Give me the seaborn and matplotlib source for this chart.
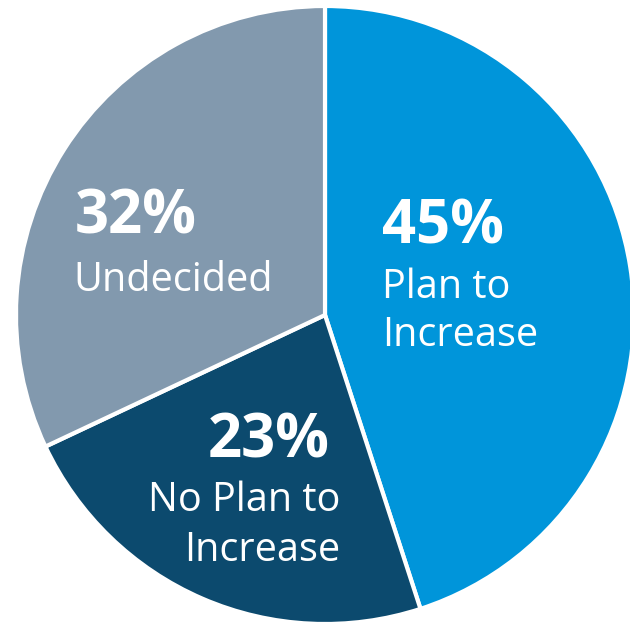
import matplotlib
matplotlib.use("Agg")
import matplotlib.pyplot as plt
import seaborn as sns

categories = ["Plan to\nIncrease", "No Plan to\nIncrease", "Undecided"]
values = [45, 23, 32]
pct_labels = ["45%", "23%", "32%"]
colors = ["#0095DA", "#0C4A6E", "#8299AE"]

sns.set_theme(style="white")
plt.rcParams['font.family'] = ['Open Sans', 'DejaVu Sans']

fig = plt.figure(figsize=(6.30, 6.23), dpi=100)
ax = fig.add_axes([0, 0, 1, 1])

cx, cy, r = 325, 623 - 315, 309
ax.pie(values, colors=colors, startangle=90, counterclock=False,
       center=(cx, cy), radius=r, frame=True,
       wedgeprops=dict(edgecolor='white', linewidth=3))
ax.set_xlim(0, 630)
ax.set_ylim(0, 623)
ax.set_aspect('equal')
ax.axis('off')

def px(x, y):
    return x, 623 - y

PCT = 43
LBL = 28.5
# 45%
ax.text(*px(382, 243), pct_labels[0], color='white', fontsize=PCT, fontweight='bold', ha='left', va='baseline')
ax.text(*px(382, 298), "Plan to", color='white', fontsize=LBL, ha='left', va='baseline')
ax.text(*px(382, 346), "Increase", color='white', fontsize=LBL, ha='left', va='baseline')
# 23%
ax.text(*px(330, 457), pct_labels[1], color='white', fontsize=PCT, fontweight='bold', ha='right', va='baseline')
ax.text(*px(340, 511), "No Plan to", color='white', fontsize=LBL, ha='right', va='baseline')
ax.text(*px(340, 561), "Increase", color='white', fontsize=LBL, ha='right', va='baseline')
# 32%
ax.text(*px(75, 233), pct_labels[2], color='white', fontsize=PCT, fontweight='bold', ha='left', va='baseline')
ax.text(*px(73, 291), "Undecided", color='white', fontsize=LBL, ha='left', va='baseline')

fig.savefig("out.png", dpi=100)
